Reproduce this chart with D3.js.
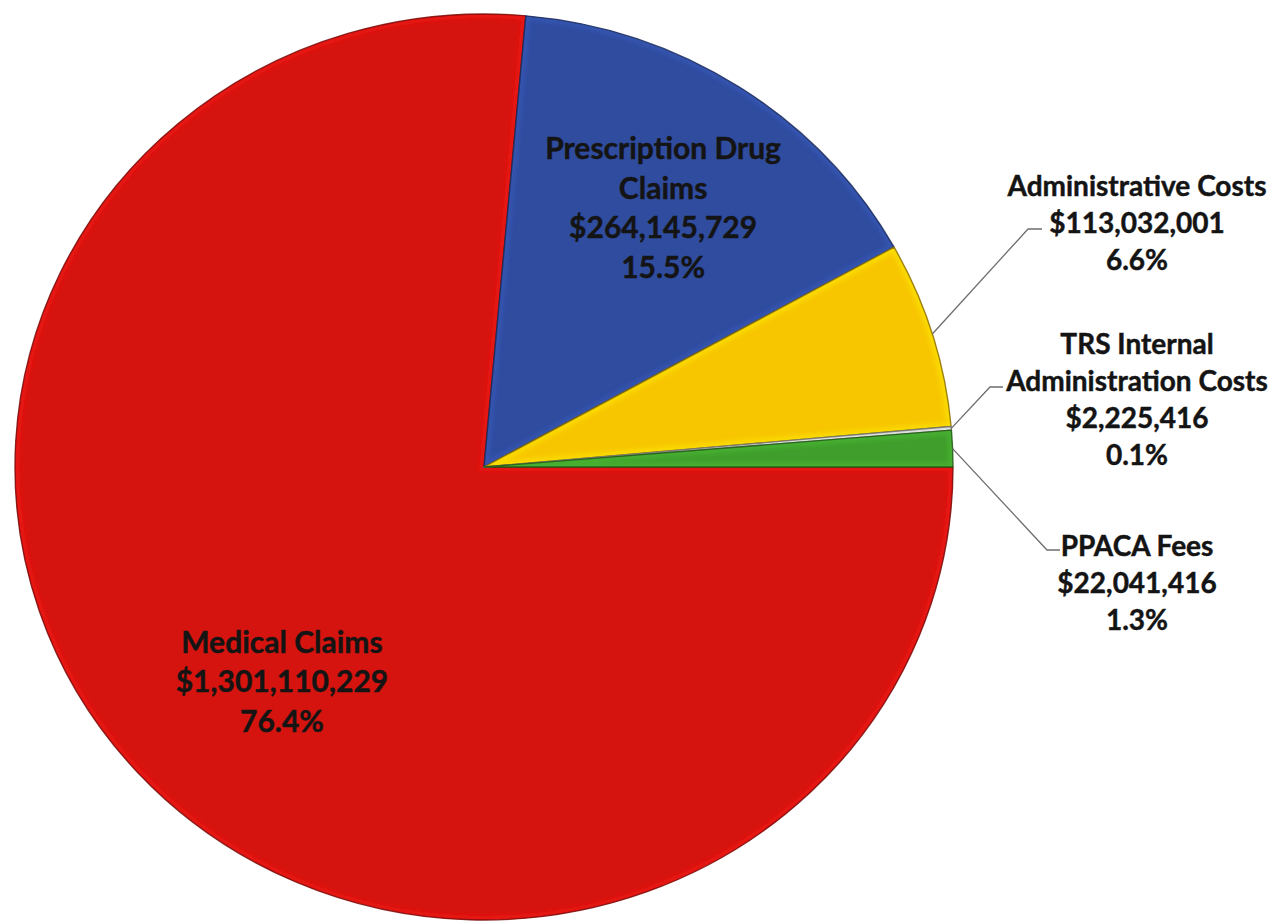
<!DOCTYPE html>
<html>
<head>
<meta charset="utf-8">
<script src="https://cdn.jsdelivr.net/npm/d3@7/dist/d3.min.js"></script>
<style>
  html, body { margin: 0; padding: 0; background: #ffffff; }
  svg { display: block; }
  text { font-family: Lato, "Open Sans", "DejaVu Sans", sans-serif; font-weight: 700; fill: #141414; stroke: #141414; stroke-width: 0.45px; }
</style>
</head>
<body>
<svg id="chart" width="1279" height="922"></svg>
<script>
// Plan expenses by category
const categories = [
  "Medical Claims",
  "Prescription Drug Claims",
  "Administrative Costs",
  "TRS Internal Administration Costs",
  "PPACA Fees"
];
const amounts = [1301110229, 264145729, 113032001, 2225416, 22041416];
const percentLabels = ["76.4%", "15.5%", "6.6%", "0.1%", "1.3%"];
const labelLines = [
  ["Medical Claims"],
  ["Prescription Drug", "Claims"],
  ["Administrative Costs"],
  ["TRS Internal", "Administration Costs"],
  ["PPACA Fees"]
];
const sliceColors = ["#d6140f", "#2f4c9f", "#f7c600", "#c9cbc6", "#3f9e2c"];

const svg = d3.select("#chart");
const cx = 484, cy = 467, rx = 469, ry = 453;

const data = categories.map((c, i) => ({
  name: c, value: amounts[i], pct: percentLabels[i], lines: labelLines[i], color: sliceColors[i]
}));

const pie = d3.pie()
  .value(d => d.value)
  .sort(null)
  .startAngle(Math.PI / 2)
  .endAngle(Math.PI / 2 + 2 * Math.PI);
const arcs = pie(data);

const arc = d3.arc().innerRadius(0).outerRadius(rx);
const fmt = d3.format("$,");

const defs = svg.append("defs");
defs.append("filter").attr("id", "soft")
  .attr("x", "-10%").attr("y", "-10%").attr("width", "120%").attr("height", "120%")
  .append("feGaussianBlur").attr("stdDeviation", 2.2);

// Pie, drawn as a circle squashed slightly into an ellipse
const pieG = svg.append("g")
  .attr("transform", `translate(${cx},${cy}) scale(1,${ry / rx})`);

arcs.forEach((a, i) => {
  const clipId = "clip" + i;
  defs.append("clipPath").attr("id", clipId)
    .append("path").attr("d", arc(a));

  const g = pieG.append("g");
  g.append("path")
    .attr("d", arc(a))
    .attr("fill", a.data.color);

  // bevel: light inner glow along the slice border
  g.append("path")
    .attr("d", arc(a))
    .attr("clip-path", `url(#${clipId})`)
    .attr("fill", "none")
    .attr("stroke", d3.color(a.data.color).brighter(0.6))
    .attr("stroke-width", 9)
    .attr("stroke-opacity", 0.45)
    .attr("filter", "url(#soft)");

  // dark rim
  g.append("path")
    .attr("d", arc(a))
    .attr("fill", "none")
    .attr("stroke", d3.color(a.data.color).darker(1.6))
    .attr("stroke-width", 1.4)
    .attr("stroke-opacity", 0.85)
    .attr("stroke-linejoin", "round");
});

function edgePoint(angle, k) {
  return [cx + Math.sin(angle) * rx * k, cy - Math.cos(angle) * ry * k];
}

// Labels inside the two large slices
const insideNudge = { 0: [16, 22], 1: [18, -20] };
[0, 1].forEach(i => {
  const a = arcs[i];
  const mid = (a.startAngle + a.endAngle) / 2;
  const [px, py] = edgePoint(mid, 0.63);
  const x = px + insideNudge[i][0], y = py + insideNudge[i][1];
  const lines = [...a.data.lines, fmt(a.data.value), a.data.pct];
  const t = svg.append("text")
    .attr("text-anchor", "middle")
    .attr("font-size", 30);
  lines.forEach((ln, j) => {
    t.append("tspan")
      .attr("x", x)
      .attr("y", y + (j - (lines.length - 1) / 2) * 39.5)
      .attr("dy", "0.35em")
      .text(ln);
  });
});

// Callout labels for the three small slices
const callouts = {
  2: { elbow: [1028, 229], end: [1042, 229], firstY: 186 },
  3: { elbow: [990, 387], end: [1003, 387], firstY: 344 },
  4: { elbow: [1047, 550], end: [1060, 550], firstY: 546 }
};
const labelX = 1137;

[2, 3, 4].forEach(i => {
  const a = arcs[i];
  const c = callouts[i];
  const mid = (a.startAngle + a.endAngle) / 2;
  const p0 = edgePoint(mid, 1.0);
  svg.append("polyline")
    .attr("points", [p0, c.elbow, c.end].map(p => p.join(",")).join(" "))
    .attr("fill", "none")
    .attr("stroke", "#6e6e6e")
    .attr("stroke-width", 1.3);

  const lines = [...a.data.lines, fmt(a.data.value), a.data.pct];
  const t = svg.append("text")
    .attr("text-anchor", "middle")
    .attr("font-size", 28);
  lines.forEach((ln, j) => {
    t.append("tspan")
      .attr("x", labelX)
      .attr("y", c.firstY + j * 37)
      .attr("dy", "0.35em")
      .text(ln);
  });
});
</script>
</body>
</html>
